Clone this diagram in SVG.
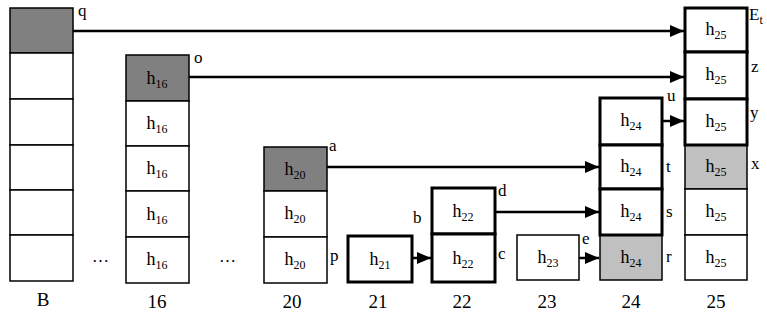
<svg xmlns="http://www.w3.org/2000/svg" width="767" height="320" viewBox="0 0 767 320">
<style>
text{font-family:"Liberation Serif","Times New Roman",serif;fill:#000}
.h{font-size:18px;text-anchor:middle}
.s{font-size:12px}
.lb{font-size:17px}
.ax{font-size:19px;text-anchor:middle}
.c{fill:#fff;stroke:#000;stroke-width:1.5}
.dk{fill:#808080;stroke:#000;stroke-width:1.5}
.lt{fill:#c0c0c0;stroke:#000;stroke-width:1.5}
.tk{fill:#fff;stroke:#000;stroke-width:3}
.ln{stroke:#000;stroke-width:2.5;fill:none;marker-end:url(#ah)}
</style>
<defs>
<marker id="ah" markerWidth="14" markerHeight="12" refX="14" refY="6" orient="auto" markerUnits="userSpaceOnUse">
<path d="M0,0 L14,6 L0,12 Z" fill="#000"/>
</marker>
</defs>
<g id="colB">
<rect class="dk" x="10" y="8" width="63" height="45"/>
<rect class="c" x="10" y="53" width="63" height="46"/>
<rect class="c" x="10" y="99" width="63" height="46"/>
<rect class="c" x="10" y="145" width="63" height="45"/>
<rect class="c" x="10" y="190" width="63" height="45"/>
<rect class="c" x="10" y="235" width="63" height="46"/>
<text class="lb" x="78" y="16">q</text>
<text class="ax" x="43" y="306">B</text>
</g>
<g id="col16">
<rect class="dk" x="126" y="55" width="63" height="46"/>
<rect class="c" x="126" y="101" width="63" height="45"/>
<rect class="c" x="126" y="146" width="63" height="45"/>
<rect class="c" x="126" y="191" width="63" height="46"/>
<rect class="c" x="126" y="237" width="63" height="46"/>
<text class="h" x="157" y="84">h<tspan class="s" dy="4">16</tspan></text>
<text class="h" x="157" y="129">h<tspan class="s" dy="4">16</tspan></text>
<text class="h" x="157" y="174">h<tspan class="s" dy="4">16</tspan></text>
<text class="h" x="157" y="220">h<tspan class="s" dy="4">16</tspan></text>
<text class="h" x="157" y="265">h<tspan class="s" dy="4">16</tspan></text>
<text class="lb" x="194" y="63">o</text>
<text class="ax" x="157" y="308">16</text>
</g>
<g id="dots">
<text class="lb" x="92" y="262">…</text>
<text class="lb" x="219" y="262">…</text>
</g>
<g id="col20">
<rect class="dk" x="264" y="147" width="63" height="44"/>
<rect class="c" x="264" y="191" width="63" height="46"/>
<rect class="c" x="264" y="237" width="63" height="46"/>
<text class="h" x="295" y="175">h<tspan class="s" dy="4">20</tspan></text>
<text class="h" x="295" y="219">h<tspan class="s" dy="4">20</tspan></text>
<text class="h" x="295" y="265">h<tspan class="s" dy="4">20</tspan></text>
<text class="lb" x="329" y="151">a</text>
<text class="lb" x="330" y="261">p</text>
<text class="ax" x="292" y="308">20</text>
</g>
<g id="col21">
<rect class="tk" x="348" y="236" width="64" height="46"/>
<text class="h" x="380" y="265">h<tspan class="s" dy="4">21</tspan></text>
<text class="lb" x="413" y="223">b</text>
<text class="ax" x="378" y="308">21</text>
</g>
<g id="col22">
<rect class="tk" x="432" y="188" width="63" height="46"/>
<rect class="tk" x="432" y="234" width="63" height="48"/>
<text class="h" x="463" y="217">h<tspan class="s" dy="4">22</tspan></text>
<text class="h" x="463" y="264">h<tspan class="s" dy="4">22</tspan></text>
<text class="lb" x="498" y="196">d</text>
<text class="lb" x="498" y="259">c</text>
<text class="ax" x="462" y="308">22</text>
</g>
<g id="col23">
<rect class="c" x="517" y="235" width="62" height="45"/>
<text class="h" x="548" y="263">h<tspan class="s" dy="4">23</tspan></text>
<text class="lb" x="582" y="244">e</text>
<text class="ax" x="547" y="308">23</text>
</g>
<g id="col24">
<rect class="lt" x="600" y="235" width="62" height="45"/>
<rect class="tk" x="600" y="98" width="62" height="47"/>
<rect class="tk" x="600" y="145" width="62" height="44"/>
<rect class="tk" x="600" y="189" width="62" height="46"/>
<text class="h" x="631" y="126">h<tspan class="s" dy="4">24</tspan></text>
<text class="h" x="631" y="172">h<tspan class="s" dy="4">24</tspan></text>
<text class="h" x="631" y="217">h<tspan class="s" dy="4">24</tspan></text>
<text class="h" x="631" y="263">h<tspan class="s" dy="4">24</tspan></text>
<text class="lb" x="667" y="101">u</text>
<text class="lb" x="666" y="172">t</text>
<text class="lb" x="666" y="217">s</text>
<text class="lb" x="666" y="262">r</text>
<text class="ax" x="631" y="308">24</text>
</g>
<g id="col25">
<rect class="lt" x="685" y="145" width="62" height="44"/>
<rect class="c" x="685" y="189" width="62" height="46"/>
<rect class="c" x="685" y="235" width="62" height="45"/>
<rect class="tk" x="685" y="8" width="62" height="44"/>
<rect class="tk" x="685" y="52" width="62" height="47"/>
<rect class="tk" x="685" y="99" width="62" height="46"/>
<text class="h" x="716" y="35">h<tspan class="s" dy="4">25</tspan></text>
<text class="h" x="716" y="80">h<tspan class="s" dy="4">25</tspan></text>
<text class="h" x="716" y="127">h<tspan class="s" dy="4">25</tspan></text>
<text class="h" x="716" y="172">h<tspan class="s" dy="4">25</tspan></text>
<text class="h" x="716" y="217">h<tspan class="s" dy="4">25</tspan></text>
<text class="h" x="716" y="263">h<tspan class="s" dy="4">25</tspan></text>
<text class="lb" x="749" y="20">E<tspan class="s" dy="4">t</tspan></text>
<text class="lb" x="751" y="72">z</text>
<text class="lb" x="750" y="118">y</text>
<text class="lb" x="751" y="169">x</text>
<text class="ax" x="716" y="308">25</text>
</g>
<g id="connectors">
<line class="ln" x1="73" y1="31" x2="684" y2="31"/>
<line class="ln" x1="189" y1="77" x2="684" y2="77"/>
<line class="ln" x1="327" y1="167" x2="599" y2="167"/>
<line class="ln" x1="495" y1="212" x2="599" y2="212"/>
<line class="ln" x1="412" y1="258" x2="431" y2="258"/>
<line class="ln" x1="579" y1="258" x2="599" y2="258"/>
<line class="ln" x1="662" y1="121" x2="684" y2="121"/>
</g>
</svg>
